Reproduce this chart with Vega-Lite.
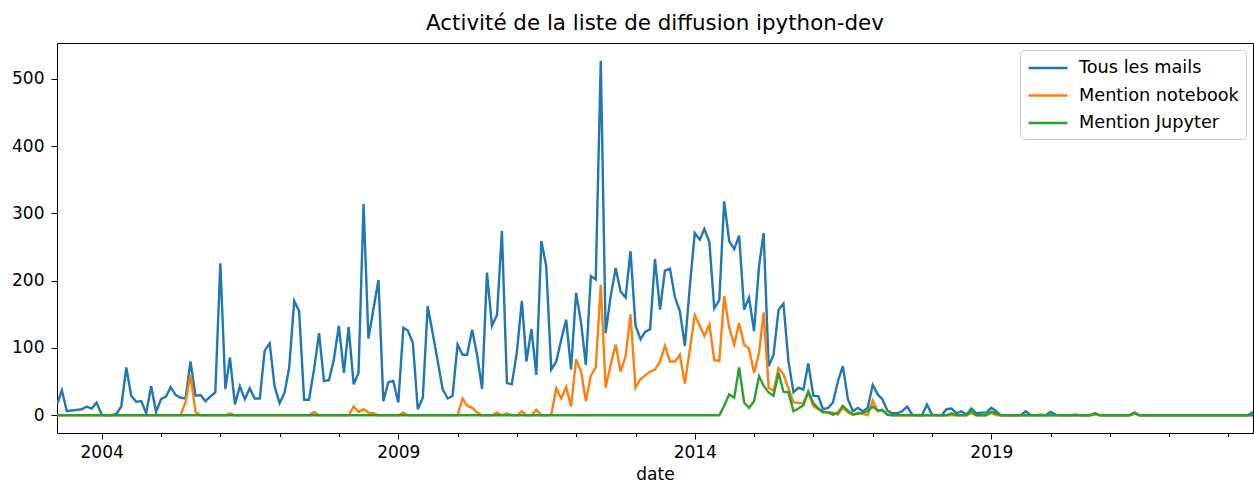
{
"$schema": "https://vega.github.io/schema/vega-lite/v6.json",
"width": 1196, "height": 390,
"autosize": {"type": "none"},
"padding": {"left": 57, "top": 43, "right": 1, "bottom": 53},
"background": "white",
"title": {"text": "Activité de la liste de diffusion ipython-dev", "fontSize": 21.4, "font": "DejaVu Sans", "fontWeight": "normal", "color": "#000", "offset": 9, "anchor": "middle"},
"data": {"values": [
{"date":"2003-04-01","Tous les mails":16,"Mention notebook":0,"Mention Jupyter":0},
{"date":"2003-05-01","Tous les mails":37,"Mention notebook":0,"Mention Jupyter":0},
{"date":"2003-06-01","Tous les mails":6,"Mention notebook":0,"Mention Jupyter":0},
{"date":"2003-07-01","Tous les mails":7,"Mention notebook":0,"Mention Jupyter":0},
{"date":"2003-08-01","Tous les mails":8,"Mention notebook":0,"Mention Jupyter":0},
{"date":"2003-09-01","Tous les mails":9,"Mention notebook":0,"Mention Jupyter":0},
{"date":"2003-10-01","Tous les mails":13,"Mention notebook":0,"Mention Jupyter":0},
{"date":"2003-11-01","Tous les mails":10,"Mention notebook":0,"Mention Jupyter":0},
{"date":"2003-12-01","Tous les mails":19,"Mention notebook":0,"Mention Jupyter":0},
{"date":"2004-01-01","Tous les mails":1,"Mention notebook":0,"Mention Jupyter":0},
{"date":"2004-02-01","Tous les mails":0,"Mention notebook":0,"Mention Jupyter":0},
{"date":"2004-03-01","Tous les mails":0,"Mention notebook":0,"Mention Jupyter":0},
{"date":"2004-04-01","Tous les mails":2,"Mention notebook":0,"Mention Jupyter":0},
{"date":"2004-05-01","Tous les mails":13,"Mention notebook":0,"Mention Jupyter":0},
{"date":"2004-06-01","Tous les mails":71,"Mention notebook":0,"Mention Jupyter":0},
{"date":"2004-07-01","Tous les mails":29,"Mention notebook":0,"Mention Jupyter":0},
{"date":"2004-08-01","Tous les mails":20,"Mention notebook":0,"Mention Jupyter":0},
{"date":"2004-09-01","Tous les mails":21,"Mention notebook":0,"Mention Jupyter":0},
{"date":"2004-10-01","Tous les mails":3,"Mention notebook":0,"Mention Jupyter":0},
{"date":"2004-11-01","Tous les mails":43,"Mention notebook":0,"Mention Jupyter":0},
{"date":"2004-12-01","Tous les mails":5,"Mention notebook":0,"Mention Jupyter":0},
{"date":"2005-01-01","Tous les mails":24,"Mention notebook":0,"Mention Jupyter":0},
{"date":"2005-02-01","Tous les mails":28,"Mention notebook":0,"Mention Jupyter":0},
{"date":"2005-03-01","Tous les mails":42,"Mention notebook":0,"Mention Jupyter":0},
{"date":"2005-04-01","Tous les mails":30,"Mention notebook":0,"Mention Jupyter":0},
{"date":"2005-05-01","Tous les mails":26,"Mention notebook":0,"Mention Jupyter":0},
{"date":"2005-06-01","Tous les mails":25,"Mention notebook":20,"Mention Jupyter":0},
{"date":"2005-07-01","Tous les mails":80,"Mention notebook":60,"Mention Jupyter":0},
{"date":"2005-08-01","Tous les mails":29,"Mention notebook":5,"Mention Jupyter":0},
{"date":"2005-09-01","Tous les mails":30,"Mention notebook":0,"Mention Jupyter":0},
{"date":"2005-10-01","Tous les mails":21,"Mention notebook":0,"Mention Jupyter":0},
{"date":"2005-11-01","Tous les mails":28,"Mention notebook":0,"Mention Jupyter":0},
{"date":"2005-12-01","Tous les mails":34,"Mention notebook":0,"Mention Jupyter":0},
{"date":"2006-01-01","Tous les mails":226,"Mention notebook":0,"Mention Jupyter":0},
{"date":"2006-02-01","Tous les mails":39,"Mention notebook":0,"Mention Jupyter":0},
{"date":"2006-03-01","Tous les mails":86,"Mention notebook":3,"Mention Jupyter":0},
{"date":"2006-04-01","Tous les mails":16,"Mention notebook":0,"Mention Jupyter":0},
{"date":"2006-05-01","Tous les mails":43,"Mention notebook":0,"Mention Jupyter":0},
{"date":"2006-06-01","Tous les mails":24,"Mention notebook":0,"Mention Jupyter":0},
{"date":"2006-07-01","Tous les mails":40,"Mention notebook":0,"Mention Jupyter":0},
{"date":"2006-08-01","Tous les mails":25,"Mention notebook":0,"Mention Jupyter":0},
{"date":"2006-09-01","Tous les mails":25,"Mention notebook":0,"Mention Jupyter":0},
{"date":"2006-10-01","Tous les mails":96,"Mention notebook":0,"Mention Jupyter":0},
{"date":"2006-11-01","Tous les mails":107,"Mention notebook":0,"Mention Jupyter":0},
{"date":"2006-12-01","Tous les mails":43,"Mention notebook":0,"Mention Jupyter":0},
{"date":"2007-01-01","Tous les mails":18,"Mention notebook":0,"Mention Jupyter":0},
{"date":"2007-02-01","Tous les mails":34,"Mention notebook":0,"Mention Jupyter":0},
{"date":"2007-03-01","Tous les mails":71,"Mention notebook":0,"Mention Jupyter":0},
{"date":"2007-04-01","Tous les mails":170,"Mention notebook":0,"Mention Jupyter":0},
{"date":"2007-05-01","Tous les mails":155,"Mention notebook":0,"Mention Jupyter":0},
{"date":"2007-06-01","Tous les mails":23,"Mention notebook":0,"Mention Jupyter":0},
{"date":"2007-07-01","Tous les mails":23,"Mention notebook":0,"Mention Jupyter":0},
{"date":"2007-08-01","Tous les mails":68,"Mention notebook":5,"Mention Jupyter":0},
{"date":"2007-09-01","Tous les mails":122,"Mention notebook":0,"Mention Jupyter":0},
{"date":"2007-10-01","Tous les mails":51,"Mention notebook":0,"Mention Jupyter":0},
{"date":"2007-11-01","Tous les mails":52,"Mention notebook":0,"Mention Jupyter":0},
{"date":"2007-12-01","Tous les mails":83,"Mention notebook":0,"Mention Jupyter":0},
{"date":"2008-01-01","Tous les mails":133,"Mention notebook":0,"Mention Jupyter":0},
{"date":"2008-02-01","Tous les mails":63,"Mention notebook":0,"Mention Jupyter":0},
{"date":"2008-03-01","Tous les mails":131,"Mention notebook":0,"Mention Jupyter":0},
{"date":"2008-04-01","Tous les mails":46,"Mention notebook":13,"Mention Jupyter":0},
{"date":"2008-05-01","Tous les mails":63,"Mention notebook":5,"Mention Jupyter":0},
{"date":"2008-06-01","Tous les mails":314,"Mention notebook":9,"Mention Jupyter":0},
{"date":"2008-07-01","Tous les mails":114,"Mention notebook":4,"Mention Jupyter":0},
{"date":"2008-08-01","Tous les mails":158,"Mention notebook":3,"Mention Jupyter":0},
{"date":"2008-09-01","Tous les mails":201,"Mention notebook":0,"Mention Jupyter":0},
{"date":"2008-10-01","Tous les mails":21,"Mention notebook":0,"Mention Jupyter":0},
{"date":"2008-11-01","Tous les mails":49,"Mention notebook":0,"Mention Jupyter":0},
{"date":"2008-12-01","Tous les mails":51,"Mention notebook":0,"Mention Jupyter":0},
{"date":"2009-01-01","Tous les mails":19,"Mention notebook":0,"Mention Jupyter":0},
{"date":"2009-02-01","Tous les mails":130,"Mention notebook":4,"Mention Jupyter":0},
{"date":"2009-03-01","Tous les mails":126,"Mention notebook":0,"Mention Jupyter":0},
{"date":"2009-04-01","Tous les mails":107,"Mention notebook":0,"Mention Jupyter":0},
{"date":"2009-05-01","Tous les mails":9,"Mention notebook":0,"Mention Jupyter":0},
{"date":"2009-06-01","Tous les mails":26,"Mention notebook":0,"Mention Jupyter":0},
{"date":"2009-07-01","Tous les mails":162,"Mention notebook":0,"Mention Jupyter":0},
{"date":"2009-08-01","Tous les mails":122,"Mention notebook":0,"Mention Jupyter":0},
{"date":"2009-09-01","Tous les mails":80,"Mention notebook":0,"Mention Jupyter":0},
{"date":"2009-10-01","Tous les mails":39,"Mention notebook":0,"Mention Jupyter":0},
{"date":"2009-11-01","Tous les mails":25,"Mention notebook":0,"Mention Jupyter":0},
{"date":"2009-12-01","Tous les mails":29,"Mention notebook":0,"Mention Jupyter":0},
{"date":"2010-01-01","Tous les mails":105,"Mention notebook":0,"Mention Jupyter":0},
{"date":"2010-02-01","Tous les mails":90,"Mention notebook":25,"Mention Jupyter":0},
{"date":"2010-03-01","Tous les mails":90,"Mention notebook":14,"Mention Jupyter":0},
{"date":"2010-04-01","Tous les mails":127,"Mention notebook":11,"Mention Jupyter":0},
{"date":"2010-05-01","Tous les mails":90,"Mention notebook":4,"Mention Jupyter":0},
{"date":"2010-06-01","Tous les mails":39,"Mention notebook":0,"Mention Jupyter":0},
{"date":"2010-07-01","Tous les mails":212,"Mention notebook":0,"Mention Jupyter":0},
{"date":"2010-08-01","Tous les mails":133,"Mention notebook":0,"Mention Jupyter":0},
{"date":"2010-09-01","Tous les mails":149,"Mention notebook":4,"Mention Jupyter":0},
{"date":"2010-10-01","Tous les mails":274,"Mention notebook":0,"Mention Jupyter":0},
{"date":"2010-11-01","Tous les mails":48,"Mention notebook":3,"Mention Jupyter":0},
{"date":"2010-12-01","Tous les mails":46,"Mention notebook":0,"Mention Jupyter":0},
{"date":"2011-01-01","Tous les mails":93,"Mention notebook":0,"Mention Jupyter":0},
{"date":"2011-02-01","Tous les mails":170,"Mention notebook":6,"Mention Jupyter":0},
{"date":"2011-03-01","Tous les mails":80,"Mention notebook":0,"Mention Jupyter":0},
{"date":"2011-04-01","Tous les mails":128,"Mention notebook":0,"Mention Jupyter":0},
{"date":"2011-05-01","Tous les mails":60,"Mention notebook":8,"Mention Jupyter":0},
{"date":"2011-06-01","Tous les mails":259,"Mention notebook":0,"Mention Jupyter":0},
{"date":"2011-07-01","Tous les mails":222,"Mention notebook":0,"Mention Jupyter":0},
{"date":"2011-08-01","Tous les mails":68,"Mention notebook":1,"Mention Jupyter":0},
{"date":"2011-09-01","Tous les mails":80,"Mention notebook":40,"Mention Jupyter":0},
{"date":"2011-10-01","Tous les mails":112,"Mention notebook":25,"Mention Jupyter":0},
{"date":"2011-11-01","Tous les mails":142,"Mention notebook":42,"Mention Jupyter":0},
{"date":"2011-12-01","Tous les mails":68,"Mention notebook":13,"Mention Jupyter":0},
{"date":"2012-01-01","Tous les mails":182,"Mention notebook":83,"Mention Jupyter":0},
{"date":"2012-02-01","Tous les mails":137,"Mention notebook":65,"Mention Jupyter":0},
{"date":"2012-03-01","Tous les mails":75,"Mention notebook":21,"Mention Jupyter":0},
{"date":"2012-04-01","Tous les mails":207,"Mention notebook":59,"Mention Jupyter":0},
{"date":"2012-05-01","Tous les mails":202,"Mention notebook":71,"Mention Jupyter":0},
{"date":"2012-06-01","Tous les mails":527,"Mention notebook":194,"Mention Jupyter":0},
{"date":"2012-07-01","Tous les mails":122,"Mention notebook":41,"Mention Jupyter":0},
{"date":"2012-08-01","Tous les mails":177,"Mention notebook":75,"Mention Jupyter":0},
{"date":"2012-09-01","Tous les mails":219,"Mention notebook":105,"Mention Jupyter":0},
{"date":"2012-10-01","Tous les mails":184,"Mention notebook":65,"Mention Jupyter":0},
{"date":"2012-11-01","Tous les mails":175,"Mention notebook":88,"Mention Jupyter":0},
{"date":"2012-12-01","Tous les mails":244,"Mention notebook":150,"Mention Jupyter":0},
{"date":"2013-01-01","Tous les mails":133,"Mention notebook":41,"Mention Jupyter":0},
{"date":"2013-02-01","Tous les mails":113,"Mention notebook":54,"Mention Jupyter":0},
{"date":"2013-03-01","Tous les mails":124,"Mention notebook":59,"Mention Jupyter":0},
{"date":"2013-04-01","Tous les mails":128,"Mention notebook":65,"Mention Jupyter":0},
{"date":"2013-05-01","Tous les mails":232,"Mention notebook":68,"Mention Jupyter":0},
{"date":"2013-06-01","Tous les mails":157,"Mention notebook":80,"Mention Jupyter":0},
{"date":"2013-07-01","Tous les mails":215,"Mention notebook":103,"Mention Jupyter":0},
{"date":"2013-08-01","Tous les mails":218,"Mention notebook":80,"Mention Jupyter":0},
{"date":"2013-09-01","Tous les mails":175,"Mention notebook":80,"Mention Jupyter":0},
{"date":"2013-10-01","Tous les mails":155,"Mention notebook":90,"Mention Jupyter":0},
{"date":"2013-11-01","Tous les mails":103,"Mention notebook":47,"Mention Jupyter":0},
{"date":"2013-12-01","Tous les mails":190,"Mention notebook":97,"Mention Jupyter":0},
{"date":"2014-01-01","Tous les mails":271,"Mention notebook":149,"Mention Jupyter":0},
{"date":"2014-02-01","Tous les mails":261,"Mention notebook":133,"Mention Jupyter":0},
{"date":"2014-03-01","Tous les mails":277,"Mention notebook":118,"Mention Jupyter":0},
{"date":"2014-04-01","Tous les mails":257,"Mention notebook":135,"Mention Jupyter":0},
{"date":"2014-05-01","Tous les mails":159,"Mention notebook":82,"Mention Jupyter":0},
{"date":"2014-06-01","Tous les mails":171,"Mention notebook":81,"Mention Jupyter":0},
{"date":"2014-07-01","Tous les mails":318,"Mention notebook":177,"Mention Jupyter":14},
{"date":"2014-08-01","Tous les mails":259,"Mention notebook":130,"Mention Jupyter":31},
{"date":"2014-09-01","Tous les mails":247,"Mention notebook":105,"Mention Jupyter":26},
{"date":"2014-10-01","Tous les mails":267,"Mention notebook":137,"Mention Jupyter":71},
{"date":"2014-11-01","Tous les mails":157,"Mention notebook":105,"Mention Jupyter":19},
{"date":"2014-12-01","Tous les mails":175,"Mention notebook":99,"Mention Jupyter":11},
{"date":"2015-01-01","Tous les mails":125,"Mention notebook":63,"Mention Jupyter":21},
{"date":"2015-02-01","Tous les mails":222,"Mention notebook":93,"Mention Jupyter":58},
{"date":"2015-03-01","Tous les mails":271,"Mention notebook":153,"Mention Jupyter":44},
{"date":"2015-04-01","Tous les mails":73,"Mention notebook":41,"Mention Jupyter":34},
{"date":"2015-05-01","Tous les mails":90,"Mention notebook":36,"Mention Jupyter":29},
{"date":"2015-06-01","Tous les mails":157,"Mention notebook":70,"Mention Jupyter":63},
{"date":"2015-07-01","Tous les mails":166,"Mention notebook":61,"Mention Jupyter":35},
{"date":"2015-08-01","Tous les mails":80,"Mention notebook":40,"Mention Jupyter":34},
{"date":"2015-09-01","Tous les mails":34,"Mention notebook":19,"Mention Jupyter":6},
{"date":"2015-10-01","Tous les mails":41,"Mention notebook":18,"Mention Jupyter":10},
{"date":"2015-11-01","Tous les mails":38,"Mention notebook":18,"Mention Jupyter":15},
{"date":"2015-12-01","Tous les mails":77,"Mention notebook":34,"Mention Jupyter":36},
{"date":"2016-01-01","Tous les mails":29,"Mention notebook":14,"Mention Jupyter":18},
{"date":"2016-02-01","Tous les mails":28,"Mention notebook":9,"Mention Jupyter":10},
{"date":"2016-03-01","Tous les mails":9,"Mention notebook":4,"Mention Jupyter":5},
{"date":"2016-04-01","Tous les mails":11,"Mention notebook":5,"Mention Jupyter":4},
{"date":"2016-05-01","Tous les mails":19,"Mention notebook":4,"Mention Jupyter":1},
{"date":"2016-06-01","Tous les mails":51,"Mention notebook":1,"Mention Jupyter":4},
{"date":"2016-07-01","Tous les mails":73,"Mention notebook":11,"Mention Jupyter":14},
{"date":"2016-08-01","Tous les mails":24,"Mention notebook":4,"Mention Jupyter":7},
{"date":"2016-09-01","Tous les mails":6,"Mention notebook":1,"Mention Jupyter":1},
{"date":"2016-10-01","Tous les mails":11,"Mention notebook":4,"Mention Jupyter":2},
{"date":"2016-11-01","Tous les mails":6,"Mention notebook":2,"Mention Jupyter":4},
{"date":"2016-12-01","Tous les mails":11,"Mention notebook":0,"Mention Jupyter":6},
{"date":"2017-01-01","Tous les mails":45,"Mention notebook":22,"Mention Jupyter":13},
{"date":"2017-02-01","Tous les mails":31,"Mention notebook":6,"Mention Jupyter":7},
{"date":"2017-03-01","Tous les mails":24,"Mention notebook":7,"Mention Jupyter":8},
{"date":"2017-04-01","Tous les mails":7,"Mention notebook":1,"Mention Jupyter":1},
{"date":"2017-05-01","Tous les mails":3,"Mention notebook":0,"Mention Jupyter":0},
{"date":"2017-06-01","Tous les mails":3,"Mention notebook":0,"Mention Jupyter":0},
{"date":"2017-07-01","Tous les mails":6,"Mention notebook":0,"Mention Jupyter":0},
{"date":"2017-08-01","Tous les mails":13,"Mention notebook":0,"Mention Jupyter":0},
{"date":"2017-09-01","Tous les mails":1,"Mention notebook":0,"Mention Jupyter":0},
{"date":"2017-10-01","Tous les mails":0,"Mention notebook":0,"Mention Jupyter":0},
{"date":"2017-11-01","Tous les mails":0,"Mention notebook":0,"Mention Jupyter":0},
{"date":"2017-12-01","Tous les mails":16,"Mention notebook":0,"Mention Jupyter":0},
{"date":"2018-01-01","Tous les mails":1,"Mention notebook":0,"Mention Jupyter":0},
{"date":"2018-02-01","Tous les mails":0,"Mention notebook":0,"Mention Jupyter":0},
{"date":"2018-03-01","Tous les mails":0,"Mention notebook":0,"Mention Jupyter":0},
{"date":"2018-04-01","Tous les mails":9,"Mention notebook":0,"Mention Jupyter":0},
{"date":"2018-05-01","Tous les mails":10,"Mention notebook":0,"Mention Jupyter":3},
{"date":"2018-06-01","Tous les mails":3,"Mention notebook":0,"Mention Jupyter":0},
{"date":"2018-07-01","Tous les mails":6,"Mention notebook":0,"Mention Jupyter":0},
{"date":"2018-08-01","Tous les mails":1,"Mention notebook":0,"Mention Jupyter":0},
{"date":"2018-09-01","Tous les mails":10,"Mention notebook":3,"Mention Jupyter":7},
{"date":"2018-10-01","Tous les mails":3,"Mention notebook":0,"Mention Jupyter":0},
{"date":"2018-11-01","Tous les mails":4,"Mention notebook":0,"Mention Jupyter":0},
{"date":"2018-12-01","Tous les mails":4,"Mention notebook":0,"Mention Jupyter":0},
{"date":"2019-01-01","Tous les mails":11,"Mention notebook":4,"Mention Jupyter":5},
{"date":"2019-02-01","Tous les mails":6,"Mention notebook":0,"Mention Jupyter":3},
{"date":"2019-03-01","Tous les mails":0,"Mention notebook":0,"Mention Jupyter":0},
{"date":"2019-04-01","Tous les mails":0,"Mention notebook":0,"Mention Jupyter":0},
{"date":"2019-05-01","Tous les mails":0,"Mention notebook":0,"Mention Jupyter":0},
{"date":"2019-06-01","Tous les mails":0,"Mention notebook":0,"Mention Jupyter":0},
{"date":"2019-07-01","Tous les mails":0,"Mention notebook":0,"Mention Jupyter":0},
{"date":"2019-08-01","Tous les mails":6,"Mention notebook":0,"Mention Jupyter":0},
{"date":"2019-09-01","Tous les mails":0,"Mention notebook":0,"Mention Jupyter":0},
{"date":"2019-10-01","Tous les mails":0,"Mention notebook":0,"Mention Jupyter":0},
{"date":"2019-11-01","Tous les mails":1,"Mention notebook":0,"Mention Jupyter":0},
{"date":"2019-12-01","Tous les mails":0,"Mention notebook":0,"Mention Jupyter":0},
{"date":"2020-01-01","Tous les mails":5,"Mention notebook":0,"Mention Jupyter":0},
{"date":"2020-02-01","Tous les mails":1,"Mention notebook":0,"Mention Jupyter":0},
{"date":"2020-03-01","Tous les mails":0,"Mention notebook":0,"Mention Jupyter":0},
{"date":"2020-04-01","Tous les mails":0,"Mention notebook":0,"Mention Jupyter":0},
{"date":"2020-05-01","Tous les mails":0,"Mention notebook":0,"Mention Jupyter":0},
{"date":"2020-06-01","Tous les mails":1,"Mention notebook":0,"Mention Jupyter":0},
{"date":"2020-07-01","Tous les mails":0,"Mention notebook":0,"Mention Jupyter":0},
{"date":"2020-08-01","Tous les mails":0,"Mention notebook":0,"Mention Jupyter":0},
{"date":"2020-09-01","Tous les mails":0,"Mention notebook":0,"Mention Jupyter":0},
{"date":"2020-10-01","Tous les mails":3,"Mention notebook":1,"Mention Jupyter":3},
{"date":"2020-11-01","Tous les mails":0,"Mention notebook":0,"Mention Jupyter":0},
{"date":"2020-12-01","Tous les mails":0,"Mention notebook":0,"Mention Jupyter":0},
{"date":"2021-01-01","Tous les mails":0,"Mention notebook":0,"Mention Jupyter":0},
{"date":"2021-02-01","Tous les mails":0,"Mention notebook":0,"Mention Jupyter":0},
{"date":"2021-03-01","Tous les mails":0,"Mention notebook":0,"Mention Jupyter":0},
{"date":"2021-04-01","Tous les mails":0,"Mention notebook":0,"Mention Jupyter":0},
{"date":"2021-05-01","Tous les mails":0,"Mention notebook":0,"Mention Jupyter":0},
{"date":"2021-06-01","Tous les mails":4,"Mention notebook":2,"Mention Jupyter":4},
{"date":"2021-07-01","Tous les mails":0,"Mention notebook":0,"Mention Jupyter":0},
{"date":"2021-08-01","Tous les mails":0,"Mention notebook":0,"Mention Jupyter":0},
{"date":"2021-09-01","Tous les mails":0,"Mention notebook":0,"Mention Jupyter":0},
{"date":"2021-10-01","Tous les mails":0,"Mention notebook":0,"Mention Jupyter":0},
{"date":"2021-11-01","Tous les mails":0,"Mention notebook":0,"Mention Jupyter":0},
{"date":"2021-12-01","Tous les mails":0,"Mention notebook":0,"Mention Jupyter":0},
{"date":"2022-01-01","Tous les mails":0,"Mention notebook":0,"Mention Jupyter":0},
{"date":"2022-02-01","Tous les mails":0,"Mention notebook":0,"Mention Jupyter":0},
{"date":"2022-03-01","Tous les mails":0,"Mention notebook":0,"Mention Jupyter":0},
{"date":"2022-04-01","Tous les mails":0,"Mention notebook":0,"Mention Jupyter":0},
{"date":"2022-05-01","Tous les mails":0,"Mention notebook":0,"Mention Jupyter":0},
{"date":"2022-06-01","Tous les mails":0,"Mention notebook":0,"Mention Jupyter":0},
{"date":"2022-07-01","Tous les mails":0,"Mention notebook":0,"Mention Jupyter":0},
{"date":"2022-08-01","Tous les mails":0,"Mention notebook":0,"Mention Jupyter":0},
{"date":"2022-09-01","Tous les mails":0,"Mention notebook":0,"Mention Jupyter":0},
{"date":"2022-10-01","Tous les mails":0,"Mention notebook":0,"Mention Jupyter":0},
{"date":"2022-11-01","Tous les mails":0,"Mention notebook":0,"Mention Jupyter":0},
{"date":"2022-12-01","Tous les mails":0,"Mention notebook":0,"Mention Jupyter":0},
{"date":"2023-01-01","Tous les mails":0,"Mention notebook":0,"Mention Jupyter":0},
{"date":"2023-02-01","Tous les mails":0,"Mention notebook":0,"Mention Jupyter":0},
{"date":"2023-03-01","Tous les mails":0,"Mention notebook":0,"Mention Jupyter":0},
{"date":"2023-04-01","Tous les mails":0,"Mention notebook":0,"Mention Jupyter":0},
{"date":"2023-05-01","Tous les mails":0,"Mention notebook":0,"Mention Jupyter":0},
{"date":"2023-06-01","Tous les mails":5,"Mention notebook":0,"Mention Jupyter":0}
]},
"transform": [{"fold": ["Tous les mails", "Mention notebook", "Mention Jupyter"], "as": ["serie", "valeur"]}],
"mark": {"type": "line", "strokeWidth": 2.4, "clip": true},
"encoding": {
  "x": {"field": "date", "type": "temporal",
    "scale": {"type": "utc", "nice": false, "domain": [{"year": 2003, "month": 4, "date": 1, "utc": true}, {"year": 2023, "month": 6, "date": 1, "utc": true}]},
    "axis": {"title": "date", "grid": false, "domain": false,
      "values": [{"year":2004,"month":1,"date":1,"utc":true},{"year":2005,"month":1,"date":1,"utc":true},{"year":2006,"month":1,"date":1,"utc":true},{"year":2007,"month":1,"date":1,"utc":true},{"year":2008,"month":1,"date":1,"utc":true},{"year":2009,"month":1,"date":1,"utc":true},{"year":2010,"month":1,"date":1,"utc":true},{"year":2011,"month":1,"date":1,"utc":true},{"year":2012,"month":1,"date":1,"utc":true},{"year":2013,"month":1,"date":1,"utc":true},{"year":2014,"month":1,"date":1,"utc":true},{"year":2015,"month":1,"date":1,"utc":true},{"year":2016,"month":1,"date":1,"utc":true},{"year":2017,"month":1,"date":1,"utc":true},{"year":2018,"month":1,"date":1,"utc":true},{"year":2019,"month":1,"date":1,"utc":true},{"year":2020,"month":1,"date":1,"utc":true},{"year":2021,"month":1,"date":1,"utc":true},{"year":2022,"month":1,"date":1,"utc":true},{"year":2023,"month":1,"date":1,"utc":true}],
      "labelExpr": "utcyear(datum.value) % 5 == 4 ? utcFormat(datum.value, '%Y') : ''",
      "tickSize": {"condition": {"test": "utcyear(datum.value) % 5 == 4", "value": 6}, "value": 3.5},
      "tickColor": "#000", "labelColor": "#000", "labelFont": "DejaVu Sans", "labelFontSize": 17,
      "labelPadding": 5, "labelOverlap": false, "labelFlush": false,
      "titleFont": "DejaVu Sans", "titleFontSize": 17, "titleFontWeight": "normal", "titleColor": "#000", "titlePadding": 6}},
  "y": {"field": "valeur", "type": "quantitative",
    "scale": {"domain": [-26.35, 553.35], "nice": false, "zero": false},
    "axis": {"title": null, "grid": false, "domain": false, "values": [0, 100, 200, 300, 400, 500],
      "tickSize": 6, "tickColor": "#000", "labelColor": "#000", "labelFont": "DejaVu Sans", "labelFontSize": 17, "labelPadding": 7}},
  "color": {"field": "serie", "type": "nominal",
    "scale": {"domain": ["Tous les mails", "Mention notebook", "Mention Jupyter"], "range": ["#1f77b4", "#ff7f0e", "#2ca02c"]},
    "legend": {"title": null, "orient": "top-right", "offset": 7, "fillColor": "rgba(255,255,255,0.8)", "strokeColor": "#cccccc", "cornerRadius": 4, "padding": 7,
      "labelFont": "DejaVu Sans", "labelFontSize": 17.7, "labelColor": "#000", "labelLimit": 400,
      "symbolType": "M-2,0H2", "symbolSize": 380, "symbolStrokeWidth": 2.5, "symbolOffset": 10, "labelOffset": 20, "rowPadding": 7.5}}
},
"config": {"view": {"stroke": "#000", "strokeWidth": 1}, "font": "DejaVu Sans"}
}
